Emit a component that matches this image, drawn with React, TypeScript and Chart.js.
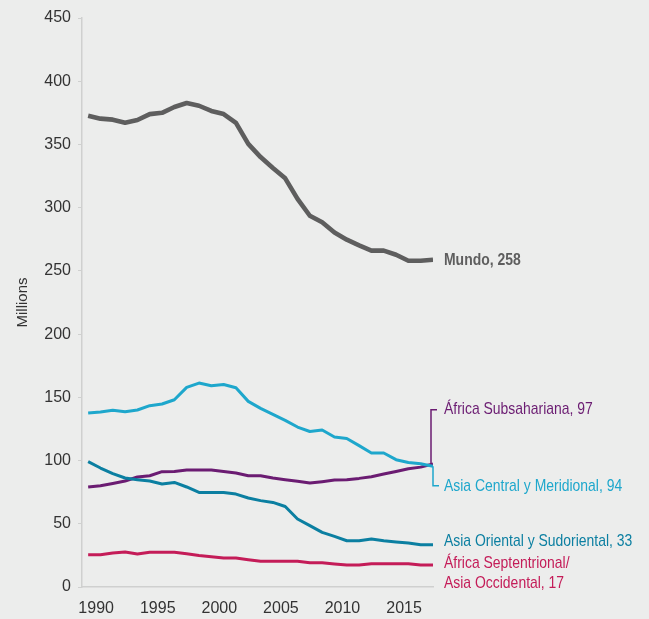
import React, { useEffect, useRef } from "react";
import { Chart, registerables } from "chart.js";

Chart.register(...registerables);

const years = [1990, 1991, 1992, 1993, 1994, 1995, 1996, 1997, 1998, 1999, 2000, 2001, 2002, 2003, 2004, 2005, 2006, 2007, 2008, 2009, 2010, 2011, 2012, 2013, 2014, 2015, 2016, 2017, 2018];
const xTickYears = [1990, 1995, 2000, 2005, 2010, 2015];
const yTickValues = [0, 50, 100, 150, 200, 250, 300, 350, 400, 450];

const mundo = [372.7, 370.4, 369.6, 367.2, 369.3, 374, 375, 379.6, 382.8, 380.6, 376.5, 374, 367, 350.4, 340, 331.4, 323.2, 306.9, 293.6, 288.4, 280.4, 274.7, 270.2, 266, 266, 262.8, 258, 258, 258.8];
const asiaCentral = [137.6, 138.4, 139.7, 138.6, 140, 143.4, 144.7, 148.1, 157.9, 161.3, 159.2, 160.2, 157.6, 146.8, 141.3, 136.5, 131.8, 126.5, 123, 124.2, 118.6, 117.5, 111.8, 106, 106, 100.7, 98.5, 97.5, 95.4];
const africaSub = [79.1, 80.1, 81.9, 83.8, 87, 88, 91.2, 91.4, 92.5, 92.5, 92.5, 91.4, 90.1, 88, 88, 86.2, 84.9, 83.6, 82.2, 83.3, 84.6, 84.9, 85.9, 87.2, 89.3, 91.4, 93.5, 94.8, 97.4];
const asiaOriental = [99.1, 94.1, 89.6, 86.2, 84.9, 83.8, 81.5, 82.7, 79.1, 74.8, 74.8, 74.8, 73.5, 70.4, 68.3, 66.9, 63.7, 53.8, 48.5, 43.2, 40, 36.6, 36.6, 38, 36.6, 35.6, 34.8, 33.5, 33.5];
const africaSept = [25.5, 25.5, 26.9, 27.7, 26.1, 27.4, 27.4, 27.4, 26.3, 25, 24, 22.9, 22.9, 21.6, 20.3, 20.3, 20.3, 20.3, 19.2, 19.2, 18.2, 17.4, 17.4, 18.4, 18.4, 18.4, 18.4, 17.4, 17.4];

const seriesNames = ["Mundo", "Asia Central y Meridional", "África Subsahariana", "Asia Oriental y Sudoriental", "África Septentrional/Asia Occidental"];
const seriesColors = ["#5e5e5e", "#1ea7cc", "#6b1c72", "#0b7fa1", "#c41c58"];

// End labels: text lines and the value (in millions) at which each line of text is centred
const endLabelLines = [
  ["Mundo, 258"],
  ["Asia Central y Meridional, 94"],
  ["África Subsahariana, 97"],
  ["Asia Oriental y Sudoriental, 33"],
  ["África Septentrional/", "Asia Occidental, 17"],
];
const endLabelValues = [
  [258.0],
  [80.0],
  [140.2],
  [36.4],
  [18.4, 3.3],
];

const FONT = "'Liberation Sans', Arial, sans-serif";
const LABEL_SQUEEZE = 0.82;
const BG = "#ecedec";

const endLabelPlugin = {
  id: "endLabels",
  afterDatasetsDraw(chart: any) {
    const { ctx, chartArea, scales } = chart;
    const xs = scales.x;
    const ys = scales.y;
    const lastX = xs.getPixelForValue(years[years.length - 1]);
    const textX = chartArea.right + 11;
    ctx.save();
    // leader for África Subsahariana (index 2)
    const subY = ys.getPixelForValue(africaSub[africaSub.length - 1]);
    const subLabelY = ys.getPixelForValue(endLabelValues[2][0]);
    ctx.strokeStyle = seriesColors[2];
    ctx.lineWidth = 1.5;
    ctx.beginPath();
    ctx.moveTo(lastX - 2, subY);
    ctx.lineTo(lastX - 2, subLabelY);
    ctx.lineTo(lastX + 4, subLabelY);
    ctx.stroke();
    // leader for Asia Central (index 1)
    const acY = ys.getPixelForValue(asiaCentral[asiaCentral.length - 1]);
    const acLabelY = ys.getPixelForValue(endLabelValues[1][0]);
    ctx.strokeStyle = seriesColors[1];
    ctx.beginPath();
    ctx.moveTo(lastX, acY);
    ctx.lineTo(lastX, acLabelY);
    ctx.lineTo(lastX + 6, acLabelY);
    ctx.stroke();

    ctx.textAlign = "left";
    ctx.textBaseline = "middle";
    endLabelLines.forEach((lines, i) => {
      ctx.fillStyle = seriesColors[i];
      ctx.font = (i === 0 ? "bold " : "") + "17px " + FONT;
      lines.forEach((t, j) => {
        ctx.save();
        ctx.translate(textX, ys.getPixelForValue(endLabelValues[i][j]));
        ctx.scale(LABEL_SQUEEZE, 1);
        ctx.fillText(t, 0, 0);
        ctx.restore();
      });
    });
    ctx.restore();
  },
};

export default function App() {
  const ref = useRef<HTMLCanvasElement | null>(null);
  useEffect(() => {
    if (!ref.current) return;
    const datasets = [mundo, asiaCentral, africaSub, asiaOriental, africaSept].map((vals, i) => ({
      label: seriesNames[i],
      data: vals.map((v, k) => ({ x: years[k], y: v })),
      borderColor: seriesColors[i],
      backgroundColor: seriesColors[i],
      borderWidth: i === 0 ? 4.6 : 3,
      pointRadius: 0,
      tension: 0,
      borderJoinStyle: "round" as const,
    }));
    const ordered = [datasets[1], datasets[3], datasets[4], datasets[2], datasets[0]];
    const chart = new Chart(ref.current, {
      type: "line",
      data: { datasets: ordered },
      options: {
        animation: false,
        responsive: false,
        devicePixelRatio: 1,
        layout: { padding: { top: 18, right: 216, left: 0, bottom: 0 } },
        plugins: { legend: { display: false }, tooltip: { enabled: false } },
        scales: {
          x: {
            type: "linear",
            min: 1989.5,
            max: 2018,
            afterBuildTicks: (scale: any) => {
              scale.ticks = xTickYears.map((v) => ({ value: v }));
            },
            afterFit: (scale: any) => {
              scale.height = 32;
            },
            grid: { display: true, drawOnChartArea: false, drawTicks: false, color: "#cfd0cf" },
            border: { display: true, color: "#cfd0cf", width: 1.5 },
            ticks: {
              callback: (v: any) => String(v),
              labelOffset: 8,
              padding: 12,
              color: "#333333",
              font: { family: FONT, size: 16 },
              maxRotation: 0,
              autoSkip: false,
            },
          },
          y: {
            min: 0,
            max: 450,
            afterBuildTicks: (scale: any) => {
              scale.ticks = yTickValues.map((v) => ({ value: v }));
            },
            afterFit: (scale: any) => {
              scale.width = 82;
            },
            grid: { display: true, drawOnChartArea: false, drawTicks: true, tickLength: 4, color: "#cfd0cf" },
            border: { display: true, color: "#cfd0cf", width: 1.5 },
            ticks: {
              padding: 7,
              color: "#333333",
              font: { family: FONT, size: 16 },
              callback: (v: any) => String(v),
            },
            title: {
              display: true,
              text: "Millions",
              color: "#333333",
              font: { family: FONT, size: 15 },
              padding: { top: 14, bottom: 0 },
            },
          },
        },
      },
      plugins: [endLabelPlugin],
    });
    return () => chart.destroy();
  }, []);
  return (
    <div style={{ position: "fixed", left: 0, top: 0, width: 649, height: 619, background: BG }}>
      <canvas ref={ref} width={649} height={619} style={{ display: "block", width: 649, height: 619 }} />
    </div>
  );
}
